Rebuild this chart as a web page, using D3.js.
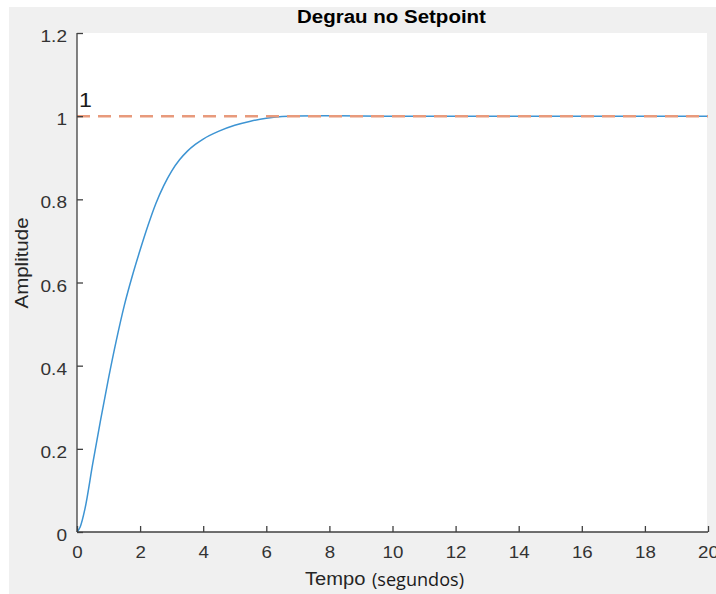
<!DOCTYPE html>
<html>
<head>
<meta charset="utf-8">
<script src="https://cdn.jsdelivr.net/npm/d3@7"></script>
<style>
  html, body { margin: 0; padding: 0; background: #ffffff; }
  svg { display: block; }
  text { font-family: "Liberation Sans", Arial, Helvetica, sans-serif; }
</style>
</head>
<body>
<svg id="chart" width="716" height="594"></svg>
<script>
// ---- data ----
const time      = [0, 0.1, 0.25, 0.5, 0.75, 1, 1.25, 1.5, 1.75, 2, 2.25, 2.5, 2.75, 3, 3.25, 3.5, 3.75, 4, 4.5, 5, 5.5, 6, 6.5, 7, 8, 9, 10, 12, 14, 16, 18, 20];
const amplitude = [0, 0.012, 0.055, 0.165, 0.27, 0.37, 0.462, 0.545, 0.615, 0.678, 0.737, 0.79, 0.833, 0.868, 0.895, 0.916, 0.932, 0.945, 0.964, 0.978, 0.988, 0.995, 0.999, 1.0005, 1.001, 1.0005, 1, 1, 1, 1, 1, 1];
const setpointTime  = [0, 20];
const setpointValue = [1, 1];
const xTicks = [0, 2, 4, 6, 8, 10, 12, 14, 16, 18, 20];
const yTicks = [0, 0.2, 0.4, 0.6, 0.8, 1, 1.2];
const titleText = "Degrau no Setpoint";
const xLabelMain = "Tempo";
const xLabelUnit = "(segundos)";
const yLabelText = "Amplitude";
const annotationText = "1";

// ---- layout ----
const W = 716, H = 594;
const plot = { left: 77, right: 708, top: 33, bottom: 532 };
const STRETCH = 1.17;

const svg = d3.select("#chart");

// backgrounds
svg.append("rect").attr("x", 0).attr("y", 0).attr("width", W).attr("height", H).attr("fill", "#ffffff");
svg.append("rect").attr("x", 9).attr("y", 7).attr("width", W - 9).attr("height", H - 7).attr("fill", "#f0f0f0");
svg.append("rect").attr("x", plot.left).attr("y", plot.top)
   .attr("width", plot.right - plot.left - 1).attr("height", plot.bottom - plot.top)
   .attr("fill", "#ffffff");

const x = d3.scaleLinear().domain([0, 20]).range([plot.left, plot.right]);
const y = d3.scaleLinear().domain([0, 1.2]).range([plot.bottom, plot.top]);

function stretchText(sel, factor) {
  sel.each(function() {
    const len = this.getComputedTextLength();
    d3.select(this).attr("textLength", len * factor).attr("lengthAdjust", "spacingAndGlyphs");
  });
}

// curves
const stepData = time.map((t, i) => [t, amplitude[i]]);
const spData = setpointTime.map((t, i) => [t, setpointValue[i]]);

svg.append("path")
   .datum(stepData)
   .attr("d", d3.line().x(d => x(d[0])).y(d => y(d[1])).curve(d3.curveMonotoneX))
   .attr("fill", "none")
   .attr("stroke", "#3d94d3")
   .attr("stroke-width", 1.5);

svg.append("path")
   .datum(spData)
   .attr("d", d3.line().x(d => x(d[0])).y(d => y(d[1])))
   .attr("fill", "none")
   .attr("stroke", "#e89a7c")
   .attr("stroke-width", 2.5)
   .attr("stroke-dasharray", "13,8");

// axes
const axisColor = "#404040";
const xAxis = d3.axisBottom(x).tickValues(xTicks).tickSize(-6).tickPadding(10).tickFormat(d3.format("d"));
const yAxis = d3.axisLeft(y).tickValues(yTicks).tickSize(-6).tickPadding(10).tickFormat(d => d === 0 ? "0" : d3.format("")(d));

const gx = svg.append("g").attr("transform", `translate(0,${plot.bottom})`).call(xAxis);
const gy = svg.append("g").attr("transform", `translate(${plot.left},0)`).call(yAxis);

[gx, gy].forEach(g => {
  g.select(".domain").attr("stroke", axisColor).attr("stroke-width", 1.3);
  g.selectAll(".tick line").attr("stroke", axisColor).attr("stroke-width", 1.3);
  g.selectAll(".tick text")
   .attr("fill", "#333333")
   .style("font-size", "17px")
   .style("font-family", "'Liberation Sans', Arial, sans-serif");
});
gx.selectAll(".tick text").attr("dy", "0.71em").attr("y", 14);
gy.selectAll(".tick text").attr("dy", "0.5em").attr("x", -10);
gx.select(".domain").attr("d", `M${plot.left},0H${plot.right}`);
gy.select(".domain").attr("d", `M0,${plot.bottom}V${plot.top}`);
stretchText(gx.selectAll(".tick text"), 1.1);
stretchText(gy.selectAll(".tick text"), 1.12);

// title
const title = svg.append("text")
   .attr("x", (plot.left + plot.right) / 2 - 1)
   .attr("y", 23)
   .attr("text-anchor", "middle")
   .attr("font-weight", "bold")
   .style("font-size", "17.5px")
   .attr("fill", "#000000")
   .text(titleText);
stretchText(title, STRETCH);

// x label
const xl = svg.append("text")
   .attr("x", 305).attr("y", 585)
   .style("font-size", "17.5px")
   .attr("fill", "#262626")
   .text(xLabelMain);
stretchText(xl, 1.15);
const xu = svg.append("text")
   .attr("x", 372).attr("y", 586)
   .style("font-size", "18px")
   .style("font-family", "'Open Sans', 'Noto Sans', sans-serif")
   .attr("fill", "#1a1a1a")
   .text(xLabelUnit);
xu.attr("textLength", 92).attr("lengthAdjust", "spacingAndGlyphs");

// y label
const yl = svg.append("text")
   .attr("transform", "translate(28,263) rotate(-90)")
   .attr("text-anchor", "middle")
   .style("font-size", "17.5px")
   .attr("fill", "#262626")
   .text(yLabelText);
stretchText(yl, STRETCH);

// annotation
const ann = svg.append("text")
   .attr("x", 79).attr("y", 107)
   .style("font-size", "21px")
   .attr("fill", "#1a1a1a")
   .text(annotationText);
stretchText(ann, 1.1);
</script>
</body>
</html>
